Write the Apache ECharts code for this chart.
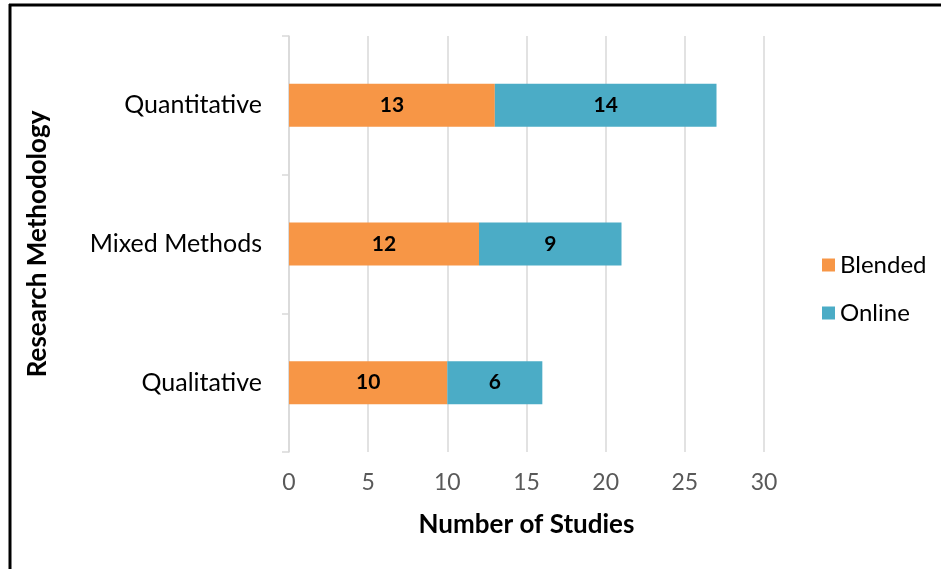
<!DOCTYPE html>
<html><head><meta charset="utf-8">
<script src="https://cdn.jsdelivr.net/npm/echarts@6/dist/echarts.min.js"></script>
<style>html,body{margin:0;padding:0;background:#fff}#c{width:941px;height:569px}</style>
</head><body><div id="c"></div>
<script>
const categories = ['Qualitative', 'Mixed Methods', 'Quantitative'];
const blended = [10, 12, 13];
const online = [6, 9, 14];
const xTicks = [0, 5, 10, 15, 20, 25, 30];
const FONT = 'Lato';
const chart = echarts.init(document.getElementById('c'));
chart.setOption({
  animation: false,
  textStyle: { fontFamily: FONT },
  grid: { left: 289, right: 177, top: 36, bottom: 117, containLabel: false },
  legend: {
    orient: 'vertical', left: 817, top: 248,
    itemWidth: 13, itemHeight: 13, itemGap: 24, icon: 'rect',
    textStyle: { fontFamily: FONT, fontSize: 24, color: '#000' },
    data: ['Blended', 'Online']
  },
  xAxis: {
    type: 'value', min: 0, max: 30, interval: 5,
    name: 'Number of Studies', nameLocation: 'middle', nameGap: 60,
    nameTextStyle: { fontFamily: FONT, fontSize: 26, fontWeight: 'bold', color: '#000' },
    axisLine: { show: false }, axisTick: { show: false },
    axisLabel: { fontSize: 23, color: '#595959', margin: 19, formatter: v => xTicks.includes(v) ? String(v) : '' },
    splitLine: { lineStyle: { color: '#d9d9d9', width: 1.5 } }
  },
  yAxis: {
    type: 'category', data: categories,
    name: 'Research Methodology', nameLocation: 'middle', nameGap: 238, nameRotate: 90,
    nameTextStyle: { fontFamily: FONT, fontSize: 26, fontWeight: 'bold', color: '#000' },
    axisLine: { show: true, lineStyle: { color: '#d9d9d9', width: 1.5 } },
    axisTick: { show: true, length: 7, lineStyle: { color: '#d9d9d9', width: 1.5 } },
    axisLabel: { fontSize: 25, color: '#000', margin: 27 }
  },
  series: [
    { name: 'Blended', type: 'bar', stack: 's', data: blended, barWidth: '31%',
      itemStyle: { color: '#F79646' },
      label: { show: true, position: 'inside', color: '#000', fontWeight: 'bold', fontSize: 21, fontFamily: FONT } },
    { name: 'Online', type: 'bar', stack: 's', data: online, barWidth: '31%',
      itemStyle: { color: '#4BACC6' },
      label: { show: true, position: 'inside', color: '#000', fontWeight: 'bold', fontSize: 21, fontFamily: FONT } }
  ],
  graphic: [
    { type: 'line', shape: { x1: 9, y1: 5, x2: 941, y2: 5 }, style: { stroke: '#000', lineWidth: 3 } },
    { type: 'line', shape: { x1: 10, y1: 4, x2: 10, y2: 569 }, style: { stroke: '#000', lineWidth: 3 } }
  ]
});
</script></body></html>
